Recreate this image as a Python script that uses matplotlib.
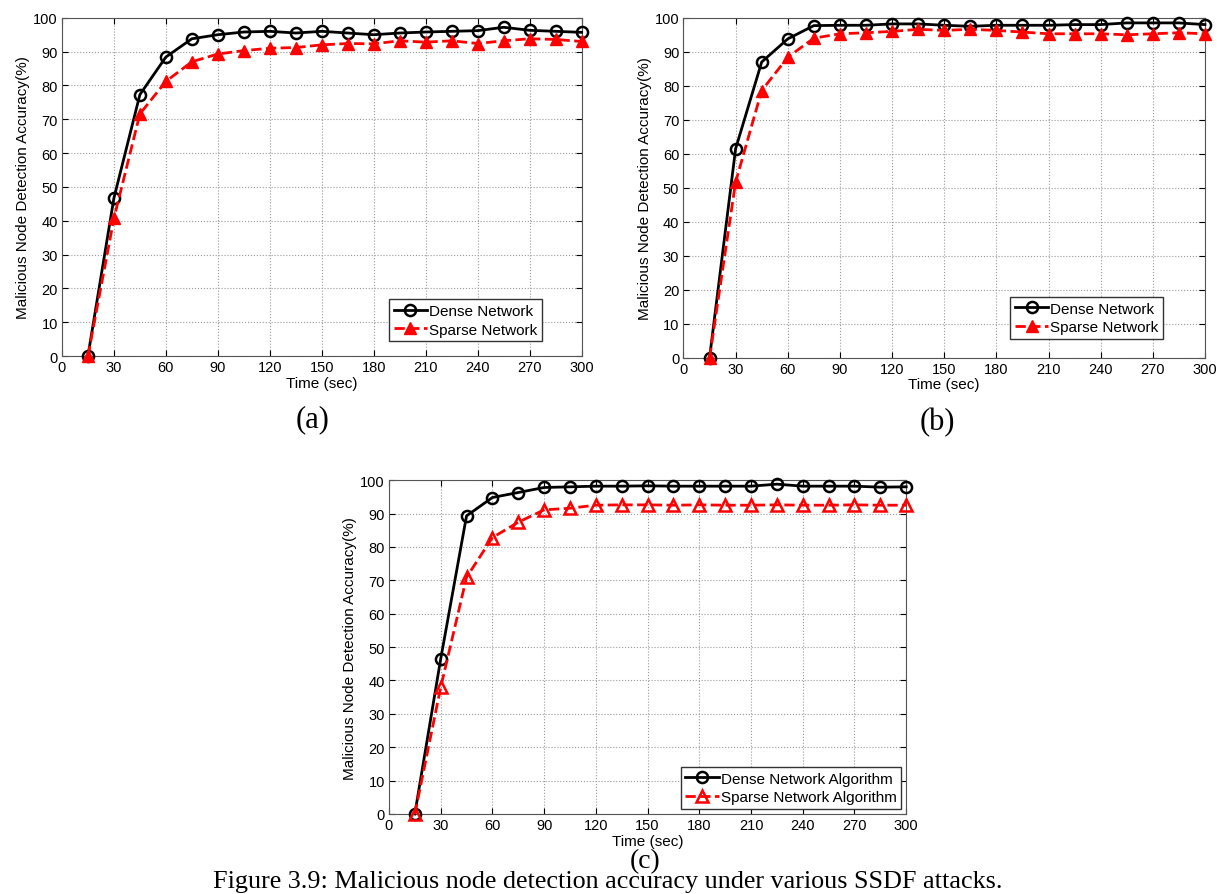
import numpy as np
import matplotlib.pyplot as plt

plt.rcParams['font.family'] = ['Liberation Sans', 'DejaVu Sans']

t = [15, 30, 45, 60, 75, 90, 105, 120, 135, 150, 165, 180, 195, 210, 225, 240, 255, 270, 285, 300]

# (a)
dense_a = [0, 46.7, 77.3, 88.4, 93.8, 95.0, 95.8, 96.0, 95.5, 96.0, 95.5, 95.0, 95.5, 95.8, 96.0, 96.2, 97.2, 96.3, 96.0, 95.7]
sparse_a = [0, 40.7, 71.6, 81.2, 87.0, 89.3, 90.3, 91.0, 91.2, 92.0, 92.4, 92.3, 93.2, 92.8, 93.2, 92.4, 93.2, 93.8, 93.6, 93.0]

# (b)
dense_b = [0, 61.5, 87.0, 93.8, 97.7, 97.8, 97.8, 98.2, 98.2, 97.8, 97.5, 97.8, 97.8, 97.8, 98.0, 98.0, 98.5, 98.5, 98.5, 98.0]
sparse_b = [0, 51.7, 78.6, 88.4, 94.0, 95.3, 95.6, 96.0, 96.6, 96.3, 96.6, 96.3, 95.8, 95.3, 95.3, 95.3, 95.0, 95.3, 95.6, 95.3]

# (c)
dense_c = [0, 46.4, 89.3, 94.8, 96.3, 97.8, 98.0, 98.2, 98.2, 98.3, 98.2, 98.2, 98.2, 98.2, 98.8, 98.2, 98.2, 98.2, 97.9, 98.0]
sparse_c = [0, 37.9, 70.9, 82.8, 87.4, 91.1, 91.6, 92.5, 92.6, 92.6, 92.5, 92.6, 92.5, 92.5, 92.6, 92.5, 92.5, 92.6, 92.5, 92.5]

labels_ab = ['Dense Network', 'Sparse Network']
labels_c = ['Dense Network Algorithm', 'Sparse Network Algorithm']

fig = plt.figure(figsize=(12.17, 8.95), dpi=100)

panels = [
    ([0.0509, 0.601, 0.427, 0.378], dense_a, sparse_a, labels_ab, True, (0.923, 0.044)),
    ([0.5616, 0.599, 0.4285, 0.380], dense_b, sparse_b, labels_ab, True, (0.919, 0.056)),
    ([0.3196, 0.0894, 0.425, 0.373], dense_c, sparse_c, labels_c, False, (0.99, 0.015)),
]

for rect, d, s, labs, filled, lpos in panels:
    ax = fig.add_axes(rect)
    ax.plot(t, d, color='black', lw=2, marker='o', ms=8, mfc='none', mew=1.8,
            label=labs[0], clip_on=False, zorder=3)
    if filled:
        ax.plot(t, s, color='red', lw=2, ls='--', marker='^', ms=8, mfc='red',
                label=labs[1], clip_on=False, zorder=3)
    else:
        ax.plot(t, s, color='red', lw=2, ls='--', marker='^', ms=9, mfc='none', mew=1.8,
                label=labs[1], clip_on=False, zorder=3)
    ax.set_xlim(0, 300)
    ax.set_ylim(0, 100)
    ax.set_xticks(np.arange(0, 301, 30))
    ax.set_yticks(np.arange(0, 101, 10))
    ax.grid(True, ls=':', color='#999999', lw=0.8)
    ax.tick_params(direction='in', labelsize=10.5, length=4, top=True, right=True, pad=3)
    for sp in ax.spines.values():
        sp.set_color('#555555')
    ax.set_xlabel('Time (sec)', fontsize=11, labelpad=1)
    ax.set_ylabel('Malicious Node Detection Accuracy(%)', fontsize=11, labelpad=2)
    leg = ax.legend(loc='lower right', bbox_to_anchor=lpos, fontsize=11, fancybox=False,
                    edgecolor='#333333', framealpha=1, handlelength=2.2, handletextpad=0.1,
                    borderpad=0.3, labelspacing=0.3, borderaxespad=0)
    leg.set_zorder(5)
    leg.get_frame().set_linewidth(1.0)

serif = ['Liberation Serif', 'DejaVu Serif']
fig.text(313 / 1217, 1 - 420 / 895, '(a)', ha='center', va='center', fontsize=22, family=serif)
fig.text(937 / 1217, 1 - 423 / 895, '(b)', ha='center', va='center', fontsize=22, family=serif)
fig.text(645 / 1217, 1 - 862 / 895, '(c)', ha='center', va='center', fontsize=20, family=serif)
fig.text(608 / 1217, 1 - 882 / 895,
         'Figure 3.9: Malicious node detection accuracy under various SSDF attacks.',
         ha='center', va='center', fontsize=18.8, family=serif)

fig.savefig('out.png', dpi=100)
